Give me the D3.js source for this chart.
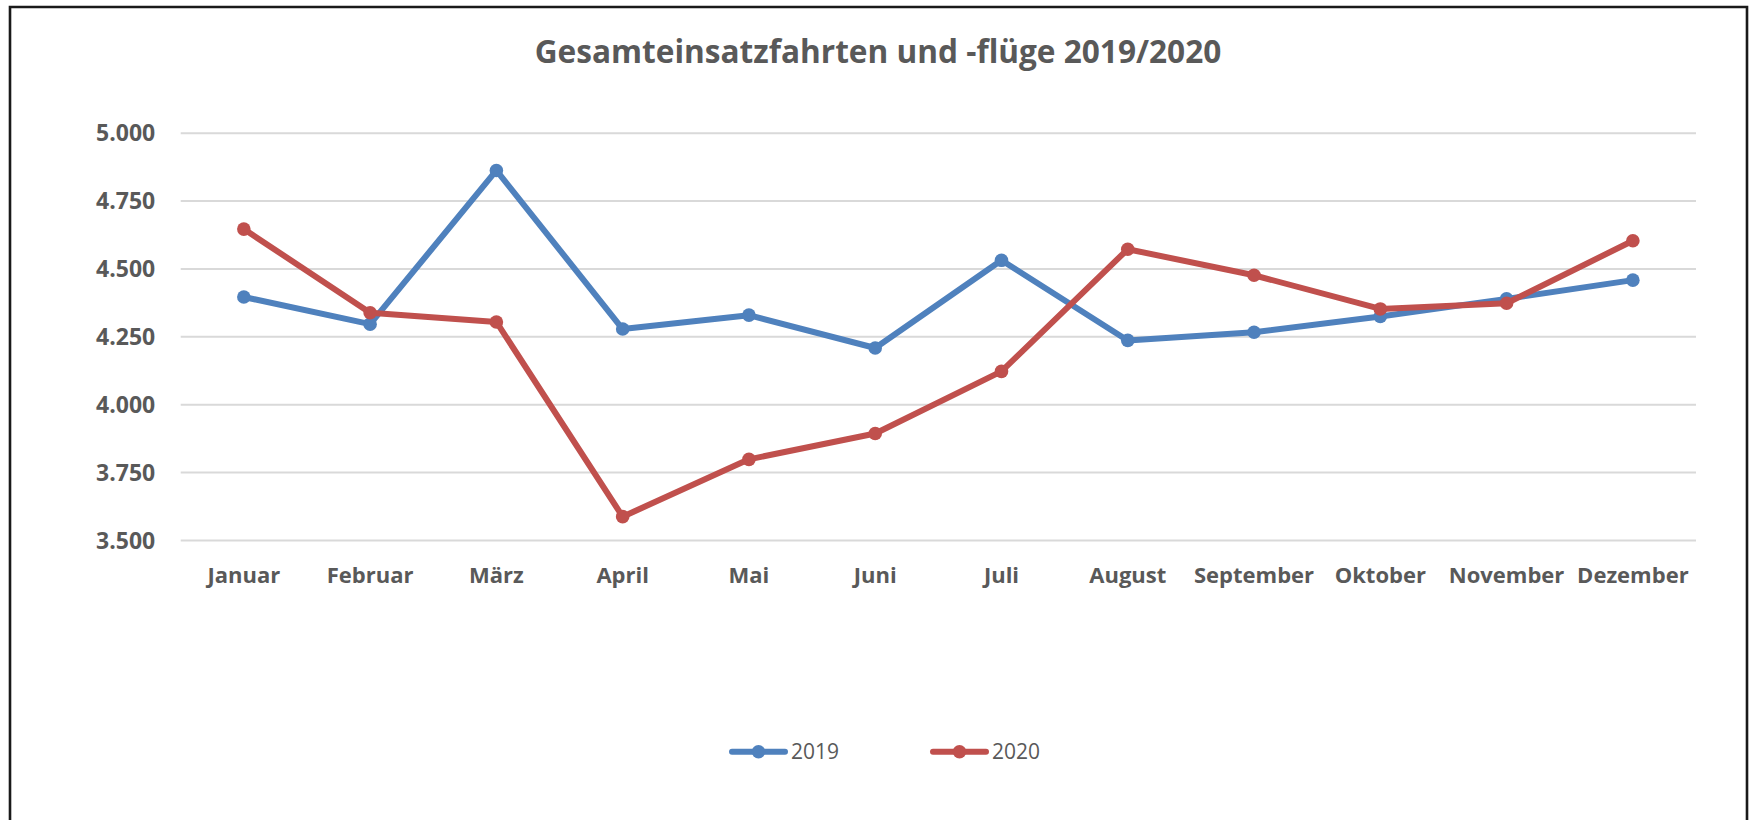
<!DOCTYPE html>
<html>
<head>
<meta charset="utf-8">
<script src="https://cdn.jsdelivr.net/npm/d3@7"></script>
<style>
  html, body { margin: 0; padding: 0; background: #fff; }
  svg { display: block; }
</style>
</head>
<body>
<svg id="chart" width="1749" height="820"></svg>
<script>
const months = ["Januar","Februar","März","April","Mai","Juni","Juli","August","September","Oktober","November","Dezember"];
const values2019 = [4395, 4295, 4861, 4277, 4328, 4207, 4530, 4235, 4265, 4323, 4388, 4457];
const values2020 = [4645, 4337, 4303, 3586, 3797, 3892, 4121, 4571, 4475, 4351, 4372, 4602];
const yTicks = [3500, 3750, 4000, 4250, 4500, 4750, 5000];
const seriesNames = ["2019", "2020"];
const seriesColors = ["#4F81BD", "#C0504D"];
const titleText = "Gesamteinsatzfahrten und -flüge 2019/2020";

(function () {
const svg = d3.select("#chart");
const W = 1749, H = 820;
const pLeft = 180.7, pRight = 1696, pTop = 132.7, pBottom = 540;
const textColor = "#595959";
const fontFam = "'Open Sans', 'Noto Sans', sans-serif";
const de = d3.formatLocale({decimal: ",", thousands: ".", grouping: [3], currency: ["", " €"]});
const fmt = de.format(",.0f");

// frame
svg.append("rect").attr("x",0).attr("y",0).attr("width",W).attr("height",H).attr("fill","#fff");
svg.append("path").attr("d", `M10,${H} L10,7 L1747,7 L1747,${H}`)
  .attr("fill","none").attr("stroke","#1a1a1a").attr("stroke-width",2.6);

const x = d3.scaleBand().domain(months).range([pLeft, pRight]);
const y = d3.scaleLinear().domain([3500, 5000]).range([pBottom, pTop]);

// gridlines + y labels
const yAxis = d3.axisLeft(y).tickValues(yTicks).tickSize(-(pRight-pLeft)).tickPadding(25.5).tickFormat(fmt);
const gy = svg.append("g").attr("transform", `translate(${pLeft},0)`).call(yAxis);
gy.select(".domain").remove();
gy.selectAll(".tick line").attr("stroke","#D9D9D9").attr("stroke-width",2);
gy.selectAll(".tick text").attr("fill",textColor).attr("font-family",fontFam)
  .attr("font-weight","bold").attr("font-size","23px").attr("dy","0.36em");

// x axis labels
const xAxis = d3.axisBottom(x).tickSize(0).tickPadding(0);
const gx = svg.append("g").attr("transform", `translate(0,${pBottom})`).call(xAxis);
gx.select(".domain").remove();
gx.selectAll(".tick text").attr("fill",textColor).attr("font-family",fontFam)
  .attr("font-weight","bold").attr("font-size","22px").attr("y", 43).attr("dy", 0);

// lines
const series = [values2019, values2020];
const cx = i => x(months[i]) + x.bandwidth()/2;
const line = d3.line().x((d,i) => cx(i)).y(d => y(d));
series.forEach((vals, si) => {
  svg.append("path").datum(vals).attr("d", line).attr("fill","none")
    .attr("stroke", seriesColors[si]).attr("stroke-width", 6)
    .attr("stroke-linejoin","round").attr("stroke-linecap","round");
  svg.append("g").selectAll("circle").data(vals).join("circle")
    .attr("cx", (d,i) => cx(i))
    .attr("cy", d => y(d)).attr("r", 6.8).attr("fill", seriesColors[si]);
});

// title
svg.append("text").attr("x", 878).attr("y", 63).attr("text-anchor","middle")
  .attr("fill",textColor).attr("font-family",fontFam).attr("font-weight","bold")
  .attr("font-size","31.6px").text(titleText);

// legend
const legendX = [730, 931];
seriesNames.forEach((name, si) => {
  const g = svg.append("g").attr("transform", `translate(${legendX[si]},751.7)`);
  g.append("line").attr("x1",2).attr("x2",55).attr("y1",0).attr("y2",0)
    .attr("stroke",seriesColors[si]).attr("stroke-width",6).attr("stroke-linecap","round");
  g.append("circle").attr("cx",28.5).attr("cy",0).attr("r",6.8).attr("fill",seriesColors[si]);
  g.append("text").attr("x",61).attr("y",0).attr("dy","0.36em").attr("fill",textColor)
    .attr("font-family",fontFam).attr("font-size","21px").text(name);
});
})();
</script>
</body>
</html>
